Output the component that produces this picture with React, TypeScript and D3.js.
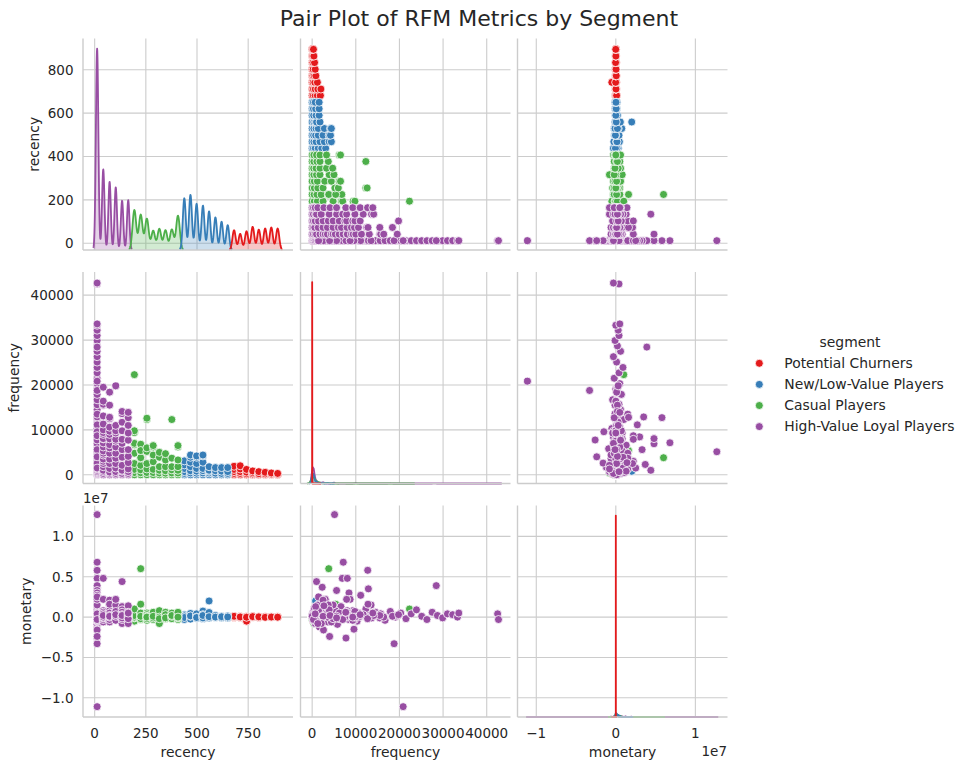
import React, { useRef, useEffect } from 'react';
import * as d3 from 'd3';

const WIDTH = 966;
const HEIGHT = 770;

const segments = ['Potential Churners', 'New/Low-Value Players', 'Casual Players', 'High-Value Loyal Players'];
const segmentColors = ['#e41a1c', '#377eb8', '#4daf4a', '#984ea3'];
const metrics = ['recency', 'frequency', 'monetary'];

// recency takes one of these values (days), lowest bucket first
const recencyLevels = [12, 42, 73, 103, 134, 164, 194, 225, 255, 286, 316, 346, 377, 407, 438, 468, 498, 529, 559, 590, 620, 650, 681, 711, 742, 772, 802, 833, 863, 894];

// customers per recency level (used for the recency density), index of first level per segment
const churnerRecencyCounts = [465, 380, 440, 545, 480, 505, 530, 505];
const newLowRecencyCounts = [1125, 1200, 1005, 965, 840, 710, 615, 540];
const casualRecencyCounts = [1070, 945, 840, 515, 565, 530, 550, 920];
const loyalRecencyCounts = [3600, 1440, 1220, 1120, 880, 890];
const recencyStart = [22, 14, 6, 0];

// bulk of the frequency / monetary distributions: [value, customers]
const churnerFrequencyBulk: [number, number][] = [[10, 3000], [25, 800]];
const newLowFrequencyBulk: [number, number][] = [[80, 3000], [350, 2500], [1000, 800], [2000, 400], [3500, 150]];
const casualFrequencyBulk: [number, number][] = [[100, 3000], [500, 2500], [1500, 900], [3500, 400], [7000, 100]];
const loyalFrequencyBulk: [number, number][] = [[80, 5000], [350, 4500], [1000, 1200], [2500, 600], [5000, 400], [10000, 250], [18000, 120], [28000, 40]];

const churnerMonetaryBulk: [number, number][] = [[0, 2500], [1500, 1000], [4000, 300], [-1500, 100]];
const newLowMonetaryBulk: [number, number][] = [[0, 2000], [1e5, 1800], [2.5e5, 1500], [5e5, 800], [-1e5, 500]];
const casualMonetaryBulk: [number, number][] = [[0, 2000], [1.2e5, 1800], [3e5, 1500], [6e5, 800], [-1.5e5, 600]];
const loyalMonetaryBulk: [number, number][] = [[0, 1200], [1e5, 1200], [2.5e5, 1100], [5e5, 1000], [-2e5, 700], [8e5, 700], [1.2e6, 500], [-6e5, 300], [2e6, 250]];

// kde bandwidths per segment
const recencyBw = [7.9, 7.3, 9, 6];
const frequencyBw = [5, 250, 400, 250];
const monetaryBw = [1000, 6e4, 6e4, 6e4];

type Row = { recency: number; frequency: number[]; monetaryM: number[] };

// scatter points: per recency level, frequency and monetary (in millions) paired by index
const churnerRows: Row[] = [
  { recency: 681, frequency: [0, 300, 700, 1200, 1900], monetaryM: [0.02, -0.05, 0.08, 0.03, 0.1] },
  { recency: 711, frequency: [0, 300, 700, 1300, 2000], monetaryM: [0.0, 0.06, -0.04, 0.05, 0.02] },
  { recency: 742, frequency: [0, 250, 600, 1200], monetaryM: [0.03, -0.5, 0.05, -0.02] },
  { recency: 772, frequency: [0, 200, 500, 850], monetaryM: [-0.03, 0.04, 0.0, 0.06] },
  { recency: 802, frequency: [0, 250, 700], monetaryM: [0.02, -0.05, 0.03] },
  { recency: 833, frequency: [0, 200, 550], monetaryM: [0.0, 0.05, -0.03] },
  { recency: 863, frequency: [0, 150, 400], monetaryM: [0.04, -0.02, 0.01] },
  { recency: 894, frequency: [0, 120, 300], monetaryM: [0.01, 0.03, -0.01] },
];

const newLowRows: Row[] = [
  { recency: 438, frequency: [0, 300, 700, 1400, 2200, 3100], monetaryM: [0.1, -0.3, 0.3, 0.05, 0.15, -0.05] },
  { recency: 468, frequency: [0, 400, 900, 1800, 2800, 3900, 4400], monetaryM: [-0.1, 0.2, 0.45, 0.0, -0.25, 0.1, 0.15] },
  { recency: 498, frequency: [0, 350, 800, 1400, 2500, 3900, 4200], monetaryM: [0.05, 0.3, -0.15, 0.1, 0.4, 0.0, -0.05] },
  { recency: 529, frequency: [0, 400, 900, 1400, 2800, 4200, 4400], monetaryM: [0.1, -0.2, 0.75, 0.3, 0.05, -0.1, 0.2] },
  { recency: 559, frequency: [0, 400, 780, 1000, 1800], monetaryM: [0.02, 0.57, 2.0, -0.1, 0.05] },
  { recency: 590, frequency: [0, 350, 900, 1600], monetaryM: [0.08, -0.05, 0.2, 0.0] },
  { recency: 620, frequency: [0, 300, 800, 1600], monetaryM: [0.0, 0.12, -0.08, 0.05] },
  { recency: 650, frequency: [0, 300, 700, 1600], monetaryM: [0.05, -0.1, 0.15, 0.02] },
];

const casualRows: Row[] = [
  { recency: 194, frequency: [0, 500, 1200, 2500, 4800, 6700, 7000, 9400, 9800, 22300], monetaryM: [0.0, 0.3, -0.5, 0.6, 0.2, -0.1, 0.4, 0.0, 0.2, 1.0] },
  { recency: 225, frequency: [0, 450, 1100, 2100, 3700, 5200, 6600, 6800, 3800, 5400], monetaryM: [0.1, -0.3, 0.4, 0.0, 0.3, -0.2, 0.5, 0.1, 6.0, 1.6] },
  { recency: 255, frequency: [0, 500, 1300, 2500, 5200, 6000, 12300, 12600], monetaryM: [0.2, -0.4, 0.5, 0.0, 0.3, -0.2, 0.1, 0.0] },
  { recency: 286, frequency: [0, 500, 1200, 2900, 4400, 6200, 6500], monetaryM: [0.05, 0.4, -0.3, 0.2, 0.6, -0.1, 0.1] },
  { recency: 316, frequency: [0, 400, 1000, 1800, 3900, 5000], monetaryM: [0.1, -0.8, 0.3, 0.8, 0.0, -0.2] },
  { recency: 346, frequency: [0, 350, 900, 1800, 3300, 4700], monetaryM: [-0.2, 0.15, 0.6, 0.0, 0.3, -0.1] },
  { recency: 377, frequency: [0, 400, 1100, 1800, 3700, 12300], monetaryM: [0.0, 0.3, -0.2, 0.5, 0.1, 0.2] },
  { recency: 407, frequency: [0, 400, 1000, 1800, 3300, 6200, 6500], monetaryM: [0.1, -0.3, 0.4, -0.1, 0.2, 0.6, 0.0] },
];

const loyalRows: Row[] = [
  {
    recency: 12,
    frequency: [0, 150, 300, 500, 700, 1000, 1300, 1700, 2100, 2600, 3100, 3600, 4300, 5000, 5800, 6600, 7500, 8400, 9300, 10300,
      11300, 12300, 13400, 14500, 15600, 16700, 17900, 19100, 20300, 21500, 22700, 23900, 25100, 26300, 27500, 28700, 29900, 31000, 32200, 33300, 33600,
      5130, 7130, 12730, 6900, 2300, 12880, 28440, 5600, 8440, 11120, 7750, 18780, 20850, 42500, 42700, 9580, 13500, 8700, 2600, 4000, 1500],
    monetaryM: [0.0, 0.5, -0.4, 1.1, -0.8, 0.3, 1.5, -1.2, 0.7, -0.2, 2.0, -0.6, 0.9, 0.1, -0.9, 1.3, 0.4, -0.3, 0.8, -0.5,
      0.2, 1.0, -0.1, 0.6, 0.3, -0.4, 0.7, 0.0, 0.5, -0.2, 0.4, 0.9, 0.1, -0.3, 0.6, 0.2, -0.1, 0.4, 0.3, 0.0, 0.5,
      12.7, 6.8, 5.8, 4.8, 3.7, 3.5, 3.9, 3.3, 3.0, 2.7, -2.6, -3.3, -11.1, 0.4, -0.3, -1.5, 1.5, 2.2, -1.6, -2.4, 2.5],
  },
  {
    recency: 42,
    frequency: [0, 300, 700, 1000, 1800, 2500, 3000, 3500, 4400, 4800, 5300, 6200, 7100, 8000, 8060, 9000, 9400, 10000, 11300, 13100, 15500, 15700, 16400, 19500],
    monetaryM: [0.0, 0.3, -0.4, 0.6, -0.1, 0.2, 2.2, 0.5, -0.6, 0.1, 0.8, -0.2, 0.4, 0.0, 4.8, 0.3, -0.3, 0.6, 0.1, 0.2, -0.1, 0.4, 0.0, 0.2],
  },
  {
    recency: 73,
    frequency: [0, 300, 600, 1400, 2500, 3500, 4800, 6000, 6700, 8000, 9000, 9700, 10600, 12500, 12800, 15500, 18400],
    monetaryM: [0.1, -0.2, 0.4, -0.6, 2.1, 0.0, 1.5, 0.3, -0.1, 0.8, 0.2, -0.3, 0.5, 0.0, 1.6, 0.2, 0.1],
  },
  {
    recency: 103,
    frequency: [0, 300, 700, 1500, 2500, 3700, 4800, 6200, 7500, 7900, 9300, 9800, 11000, 19800],
    monetaryM: [0.0, 0.3, -0.3, 0.9, 0.1, 1.5, -0.2, 0.5, 0.0, 2.2, -0.4, 0.7, 0.1, 0.3],
  },
  {
    recency: 134,
    frequency: [0, 300, 800, 1000, 2100, 3900, 5600, 7000, 7900, 9800, 11700, 13600, 14100],
    monetaryM: [0.2, -0.4, 1.3, 4.4, -0.8, 0.9, 0.1, -0.3, 0.6, 0.0, 0.3, -0.1, 0.2],
  },
  {
    recency: 164,
    frequency: [0, 300, 700, 1300, 2700, 4100, 5600, 7700, 9300, 11000, 12700, 13900],
    monetaryM: [0.1, -0.3, 0.4, -0.8, 1.4, 0.2, -0.1, 0.6, 0.0, 0.3, -0.2, 0.5],
  },
];

// axis limits and ticks per metric
const limitsX: [number, number][] = [[-57, 969], [-2670, 45450], [-1.236e7, 1.404e7]];
const limitsY: [number, number][] = [[-31, 944], [-1940, 45160], [-1.238e7, 1.383e7]];
const ticksX = [[0, 250, 500, 750], [0, 10000, 20000, 30000, 40000], [-1e7, 0, 1e7]];
const ticksY = [[0, 200, 400, 600, 800], [0, 10000, 20000, 30000, 40000], [-1e7, -5e6, 0, 5e6, 1e7]];

const fmtInt = d3.format('d');
const fmtX = [(v: number) => fmtInt(v), (v: number) => fmtInt(v), (v: number) => fmtInt(v / 1e7)];
const fmtY = [(v: number) => fmtInt(v), (v: number) => fmtInt(v), (v: number) => d3.format('.1f')(v / 1e7)];

type Point = { seg: number; recency: number; frequency: number; monetary: number };

const segmentRows = [churnerRows, newLowRows, casualRows, loyalRows];
const recencyCounts = [churnerRecencyCounts, newLowRecencyCounts, casualRecencyCounts, loyalRecencyCounts];
const frequencyBulk = [churnerFrequencyBulk, newLowFrequencyBulk, casualFrequencyBulk, loyalFrequencyBulk];
const monetaryBulk = [churnerMonetaryBulk, newLowMonetaryBulk, casualMonetaryBulk, loyalMonetaryBulk];

const points: Point[] = segmentRows.flatMap((rows, seg) =>
  rows.flatMap(row => row.frequency.map((f, k) => ({ seg, recency: row.recency, frequency: f, monetary: row.monetaryM[k] * 1e6 })))
);

const value = (p: Point, m: number) => (m === 0 ? p.recency : m === 1 ? p.frequency : p.monetary);

const kde = (samples: [number, number][], bw: number): [number, number][] => {
  const lo = d3.min(samples, d => d[0])! - 3 * bw;
  const hi = d3.max(samples, d => d[0])! + 3 * bw;
  return d3.range(200).map(i => {
    const x = lo + ((hi - lo) * i) / 199;
    const dens = d3.sum(samples, ([v, w]) => w * Math.exp(-0.5 * ((x - v) / bw) ** 2)) / (bw * Math.sqrt(2 * Math.PI));
    return [x, dens] as [number, number];
  });
};

const diagSamples = (m: number, seg: number): [number, number][] => {
  if (m === 0) {
    const counts = recencyCounts[seg];
    return counts.map((c, i) => [recencyLevels[recencyStart[seg] + i], c] as [number, number]);
  }
  const own = points.filter(p => p.seg === seg).map(p => [value(p, m), 1] as [number, number]);
  return (m === 1 ? frequencyBulk[seg] : monetaryBulk[seg]).concat(own);
};

const bandwidths = [recencyBw, frequencyBw, monetaryBw];

const colLeft = [83, 300.5, 517.5];
const rowTop = [38.5, 272, 505.5];
const panelW = 210;
const panelH = 211.5;
const yLabelX = [38.5, 19, 30.5];

const FONT = 'DejaVu Sans, sans-serif';
const TEXT = '#262626';

const App: React.FC = () => {
  const svgRef = useRef<SVGSVGElement | null>(null);

  useEffect(() => {
    if (!svgRef.current) return;
    const svg = d3.select(svgRef.current);
    svg.selectAll('*').remove();

    svg.append('rect').attr('width', WIDTH).attr('height', HEIGHT).attr('fill', '#fff');

    for (let i = 0; i < 3; i++) {
      for (let j = 0; j < 3; j++) {
        const g = svg.append('g').attr('transform', `translate(${colLeft[j]},${rowTop[i]})`);
        const x = d3.scaleLinear().domain(limitsX[j]).range([0, panelW]);
        const y = d3.scaleLinear().domain(limitsY[i]).range([panelH, 0]);

        // grid
        g.selectAll('.gx').data(ticksX[j]).enter().append('line')
          .attr('x1', d => x(d)).attr('x2', d => x(d)).attr('y1', 0).attr('y2', panelH)
          .attr('stroke', '#cccccc').attr('stroke-width', 1.1);
        g.selectAll('.gy').data(ticksY[i]).enter().append('line')
          .attr('x1', 0).attr('x2', panelW).attr('y1', d => y(d)).attr('y2', d => y(d))
          .attr('stroke', '#cccccc').attr('stroke-width', 1.1);

        if (i === j) {
          const curves = segments.map((_, s) => kde(diagSamples(i, s), bandwidths[i][s]));
          const maxD = d3.max(curves.flat(), d => d[1])!;
          const yk = d3.scaleLinear().domain([0, maxD * 1.05]).range([panelH, 0]);
          const area = d3.area<[number, number]>().x(d => x(d[0])).y0(yk(0)).y1(d => yk(d[1]));
          const line = d3.line<[number, number]>().x(d => x(d[0])).y(d => yk(d[1]));
          // last segment drawn first so the first one ends on top
          for (let s = segments.length - 1; s >= 0; s--) {
            g.append('path').attr('d', area(curves[s])!).attr('fill', segmentColors[s]).attr('fill-opacity', 0.25);
            g.append('path').attr('d', line(curves[s])!).attr('fill', 'none')
              .attr('stroke', segmentColors[s]).attr('stroke-width', 1.8).attr('stroke-linejoin', 'round');
          }
        } else {
          g.selectAll('circle').data(points).enter().append('circle')
            .attr('cx', d => x(value(d, j)))
            .attr('cy', d => y(value(d, i)))
            .attr('r', 4)
            .attr('fill', d => segmentColors[d.seg])
            .attr('stroke', '#ffffff')
            .attr('stroke-width', 0.8);
        }

        // spines
        g.append('line').attr('x1', 0).attr('x2', 0).attr('y1', 0).attr('y2', panelH)
          .attr('stroke', '#cccccc').attr('stroke-width', 1.4);
        g.append('line').attr('x1', 0).attr('x2', panelW).attr('y1', panelH).attr('y2', panelH)
          .attr('stroke', '#cccccc').attr('stroke-width', 1.4);

        if (j === 0) {
          g.selectAll('.ty').data(ticksY[i]).enter().append('text')
            .attr('x', -9.5).attr('y', d => y(d)).attr('dy', '0.36em')
            .attr('text-anchor', 'end').attr('font-family', FONT).attr('font-size', 13.5).attr('fill', TEXT)
            .text(d => fmtY[i](d));
          svg.append('text')
            .attr('transform', `translate(${yLabelX[i]},${rowTop[i] + panelH / 2}) rotate(-90)`)
            .attr('text-anchor', 'middle').attr('font-family', FONT).attr('font-size', 13.9).attr('fill', TEXT)
            .text(metrics[i]);
        }
        if (i === 2) {
          g.selectAll('.tx').data(ticksX[j]).enter().append('text')
            .attr('x', d => x(d)).attr('y', panelH + 21)
            .attr('text-anchor', 'middle').attr('font-family', FONT).attr('font-size', 13.5).attr('fill', TEXT)
            .text(d => fmtX[j](d));
          svg.append('text')
            .attr('x', colLeft[j] + panelW / 2).attr('y', 756.5)
            .attr('text-anchor', 'middle').attr('font-family', FONT).attr('font-size', 13.9).attr('fill', TEXT)
            .text(metrics[j]);
        }
      }
    }

    // scale offset texts
    svg.append('text').attr('x', 83).attr('y', 502.5).attr('font-family', FONT).attr('font-size', 13.5).attr('fill', TEXT).text('1e7');
    svg.append('text').attr('x', 727).attr('y', 755.5).attr('text-anchor', 'end').attr('font-family', FONT).attr('font-size', 13.5).attr('fill', TEXT).text('1e7');

    // title
    svg.append('text').attr('x', 479).attr('y', 26).attr('text-anchor', 'middle')
      .attr('font-family', FONT).attr('font-size', 22).attr('fill', TEXT)
      .text('Pair Plot of RFM Metrics by Segment');

    // legend
    const lg = svg.append('g');
    lg.append('text').attr('x', 850).attr('y', 346.5).attr('text-anchor', 'middle')
      .attr('font-family', FONT).attr('font-size', 13.9).attr('fill', TEXT).text('segment');
    segments.forEach((name, k) => {
      const cy = 363.3 + k * 21.1;
      lg.append('circle').attr('cx', 759.3).attr('cy', cy).attr('r', 4)
        .attr('fill', segmentColors[k]).attr('stroke', '#fff').attr('stroke-width', 0.8);
      lg.append('text').attr('x', 784.3).attr('y', cy + 4.8)
        .attr('font-family', FONT).attr('font-size', 13.9).attr('fill', TEXT).text(name);
    });
  }, []);

  return (
    <svg
      ref={svgRef}
      width={WIDTH}
      height={HEIGHT}
      style={{ position: 'absolute', left: 0, top: 0, display: 'block' }}
    />
  );
};

export default App;
